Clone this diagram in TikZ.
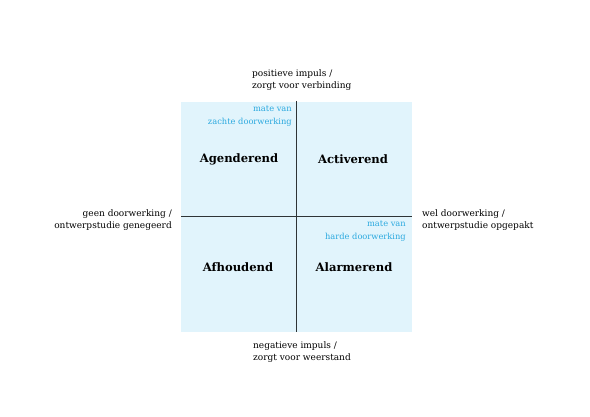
\documentclass[tikz,border=0pt]{standalone}
\usepackage{fontspec}
\setmainfont{DejaVu Serif}
\usepackage{xcolor}
\definecolor{QuadFill}{HTML}{E1F4FC}
\definecolor{QuadBlue}{HTML}{2BA9DF}
\definecolor{QuadLine}{HTML}{2E3436}
\usetikzlibrary{positioning}

\begin{document}
\begin{tikzpicture}[x=1pt,y=-1pt,
  axislabel/.style={font=\fontsize{9}{12.5}\selectfont, align=left, inner sep=0pt},
  quadlabel/.style={font=\fontsize{11.6}{12}\selectfont\bfseries, inner sep=0pt},
  measure/.style={font=\fontsize{8.3}{12.5}\selectfont, text=QuadBlue, align=right, inner sep=0pt}]
  \useasboundingbox (0,0) rectangle (590,417);
  % field
  \fill[QuadFill] (181,102) rectangle (412,332);
  % axes
  \coordinate (top) at (296,101);
  \coordinate (bottom) at (296,332);
  \coordinate (left) at (181,216);
  \coordinate (right) at (412,216);
  \draw[QuadLine, line width=0.9pt] (top) -- (bottom);
  \draw[QuadLine, line width=0.9pt] (left) -- (right);
  % axis ends
  \node[axislabel, anchor=south west] (pos) at (252,91) {positieve impuls /\\zorgt voor verbinding};
  \node[axislabel, anchor=north west] (neg) at (253,341) {negatieve impuls /\\zorgt voor weerstand};
  \node[axislabel, align=right, anchor=east] (geen) at (172,220) {geen doorwerking /\\ontwerpstudie genegeerd};
  \node[axislabel, anchor=west] (wel) at (422,220) {wel doorwerking /\\ontwerpstudie opgepakt};
  % quadrants
  \node[quadlabel] (agenderend) at (239,159) {Agenderend};
  \node[quadlabel] (activerend) at (353,159) {Activerend};
  \node[quadlabel] (afhoudend) at (238,267) {Afhoudend};
  \node[quadlabel] (alarmerend) at (354,267) {Alarmerend};
  % measures
  \node[measure, anchor=north east] (zacht) at (292,106) {mate van\\zachte doorwerking};
  \node[measure, anchor=north east] (hard) at (406,221) {mate van\\harde doorwerking};
\end{tikzpicture}
\end{document}
